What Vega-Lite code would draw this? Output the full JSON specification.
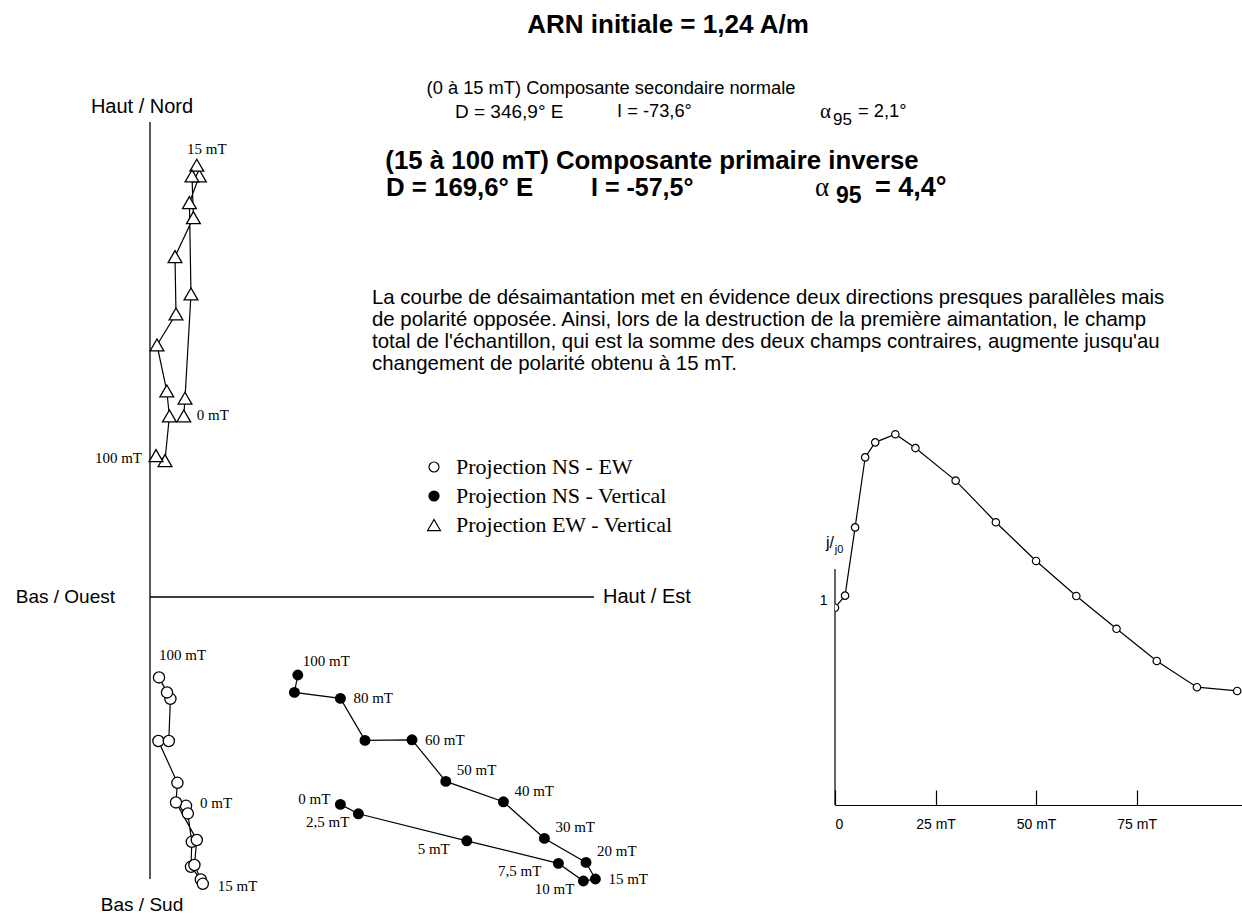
{
  "$schema": "https://vega.github.io/schema/vega-lite/v6.json",
  "padding": 0,
  "spacing": 0,
  "bounds": "flush",
  "config": {"view": {"stroke": null}, "font": "Liberation Sans", "text": {"color": "black"}},
  "datasets": {
    "one": [{}],
    "ns_ew": [
      {"mT": 0, "label": "0 mT", "h": 18.0, "v": -104.4},
      {"mT": 2.5, "label": "2,5 mT", "h": 18.9, "v": -108.2},
      {"mT": 5, "label": "5 mT", "h": 20.9, "v": -122.4},
      {"mT": 7.5, "label": "7,5 mT", "h": 20.5, "v": -134.9},
      {"mT": 10, "label": "10 mT", "h": 25.4, "v": -141.2},
      {"mT": 15, "label": "15 mT", "h": 26.4, "v": -143.4},
      {"mT": 20, "label": "20 mT", "h": 22.2, "v": -134.0},
      {"mT": 30, "label": "30 mT", "h": 23.4, "v": -121.5},
      {"mT": 40, "label": "40 mT", "h": 13.0, "v": -102.7},
      {"mT": 50, "label": "50 mT", "h": 13.7, "v": -92.9},
      {"mT": 60, "label": "60 mT", "h": 4.2, "v": -72.0},
      {"mT": 70, "label": "70 mT", "h": 9.4, "v": -72.0},
      {"mT": 80, "label": "80 mT", "h": 10.2, "v": -50.9},
      {"mT": 90, "label": "90 mT", "h": 8.5, "v": -47.7},
      {"mT": 100, "label": "100 mT", "h": 4.5, "v": -40.2}
    ],
    "ns_v": [
      {"mT": 0, "label": "0 mT", "h": 95.2, "v": -103.7},
      {"mT": 2.5, "label": "2,5 mT", "h": 104.2, "v": -108.4},
      {"mT": 5, "label": "5 mT", "h": 158.4, "v": -121.9},
      {"mT": 7.5, "label": "7,5 mT", "h": 204.2, "v": -133.2},
      {"mT": 10, "label": "10 mT", "h": 216.7, "v": -142.0},
      {"mT": 15, "label": "15 mT", "h": 222.7, "v": -141.0},
      {"mT": 20, "label": "20 mT", "h": 218.0, "v": -132.7},
      {"mT": 30, "label": "30 mT", "h": 197.2, "v": -120.7},
      {"mT": 40, "label": "40 mT", "h": 176.7, "v": -102.4},
      {"mT": 50, "label": "50 mT", "h": 147.9, "v": -92.2},
      {"mT": 60, "label": "60 mT", "h": 131.0, "v": -71.4},
      {"mT": 70, "label": "70 mT", "h": 107.5, "v": -71.7},
      {"mT": 80, "label": "80 mT", "h": 95.2, "v": -50.7},
      {"mT": 90, "label": "90 mT", "h": 72.2, "v": -47.7},
      {"mT": 100, "label": "100 mT", "h": 73.9, "v": -39.0}
    ],
    "ew_v": [
      {"mT": 0, "label": "0 mT", "h": 16.9, "v": 90.5},
      {"mT": 2.5, "label": "2,5 mT", "h": 17.5, "v": 99.4},
      {"mT": 5, "label": "5 mT", "h": 20.5, "v": 151.5},
      {"mT": 7.5, "label": "7,5 mT", "h": 19.7, "v": 197.2},
      {"mT": 10, "label": "10 mT", "h": 24.7, "v": 210.5},
      {"mT": 15, "label": "15 mT", "h": 23.4, "v": 215.9},
      {"mT": 20, "label": "20 mT", "h": 21.0, "v": 210.5},
      {"mT": 30, "label": "30 mT", "h": 21.7, "v": 189.7},
      {"mT": 40, "label": "40 mT", "h": 12.5, "v": 170.2},
      {"mT": 50, "label": "50 mT", "h": 13.0, "v": 141.5},
      {"mT": 60, "label": "60 mT", "h": 3.5, "v": 126.0},
      {"mT": 70, "label": "70 mT", "h": 8.4, "v": 103.0},
      {"mT": 80, "label": "80 mT", "h": 9.7, "v": 90.5},
      {"mT": 90, "label": "90 mT", "h": 7.5, "v": 68.2},
      {"mT": 100, "label": "100 mT", "h": 3.0, "v": 70.7}
    ],
    "curve": [
      {"mT": 0, "j": 1.0},
      {"mT": 2.5, "j": 1.061},
      {"mT": 5, "j": 1.407},
      {"mT": 7.5, "j": 1.762},
      {"mT": 10, "j": 1.838},
      {"mT": 15, "j": 1.879},
      {"mT": 20, "j": 1.809},
      {"mT": 30, "j": 1.644},
      {"mT": 40, "j": 1.433},
      {"mT": 50, "j": 1.237},
      {"mT": 60, "j": 1.059},
      {"mT": 70, "j": 0.893},
      {"mT": 80, "j": 0.730},
      {"mT": 90, "j": 0.597},
      {"mT": 100, "j": 0.578}
    ]
  },
  "hconcat": [
    {
      "width": 835,
      "height": 916,
      "layer": [
        {"data": {"name": "one"}, "mark": {"type": "rule", "color": "black", "strokeWidth": 1.3},
         "encoding": {
           "x": {"datum": 0, "type": "quantitative", "scale": {"domain": [-75, 342.5], "nice": false, "zero": false}, "axis": null},
           "y": {"datum": -141, "type": "quantitative", "scale": {"domain": [-159.5, 298.5], "nice": false, "zero": false}, "axis": null},
           "y2": {"datum": 237.5}}},
        {"data": {"name": "one"}, "mark": {"type": "rule", "color": "black", "strokeWidth": 1.3},
         "encoding": {
           "x": {"datum": 0, "type": "quantitative", "scale": {"domain": [-75, 342.5], "nice": false, "zero": false}, "axis": null},
           "x2": {"datum": 222},
           "y": {"datum": 0, "type": "quantitative", "scale": {"domain": [-159.5, 298.5], "nice": false, "zero": false}, "axis": null}}},
        {"data": {"name": "one"}, "mark": {"type": "text", "text": "Haut / Nord", "fontSize": 20, "align": "center", "baseline": "middle"},
         "encoding": {"x": {"datum": -4, "type": "quantitative"}, "y": {"datum": 245, "type": "quantitative"}}},
        {"data": {"name": "one"}, "mark": {"type": "text", "text": "Bas / Ouest", "fontSize": 19, "align": "right", "baseline": "middle"},
         "encoding": {"x": {"datum": -17.5, "type": "quantitative"}, "y": {"datum": 0, "type": "quantitative"}}},
        {"data": {"name": "one"}, "mark": {"type": "text", "text": "Haut / Est", "fontSize": 20, "align": "left", "baseline": "middle"},
         "encoding": {"x": {"datum": 226.5, "type": "quantitative"}, "y": {"datum": 0, "type": "quantitative"}}},
        {"data": {"name": "one"}, "mark": {"type": "text", "text": "Bas / Sud", "fontSize": 19, "align": "center", "baseline": "middle"},
         "encoding": {"x": {"datum": -4, "type": "quantitative"}, "y": {"datum": -154, "type": "quantitative"}}},
        {"data": {"name": "one"}, "mark": {"type": "text", "text": "ARN initiale = 1,24 A/m", "fontSize": 26, "fontWeight": "bold", "align": "center", "baseline": "middle"},
         "encoding": {"x": {"datum": 259, "type": "quantitative"}, "y": {"datum": 286, "type": "quantitative"}}},
        {"data": {"name": "one"}, "mark": {"type": "text", "text": "(0 à 15 mT) Composante secondaire normale", "fontSize": 18.3, "align": "center", "baseline": "middle"},
         "encoding": {"x": {"datum": 230.5, "type": "quantitative"}, "y": {"datum": 254, "type": "quantitative"}}},
        {"data": {"name": "one"}, "mark": {"type": "text", "text": "D = 346,9° E", "fontSize": 19, "align": "left", "baseline": "middle"},
         "encoding": {"x": {"datum": 152.5, "type": "quantitative"}, "y": {"datum": 242.5, "type": "quantitative"}}},
        {"data": {"name": "one"}, "mark": {"type": "text", "text": "I = -73,6°", "fontSize": 18.3, "align": "left", "baseline": "middle"},
         "encoding": {"x": {"datum": 233.5, "type": "quantitative"}, "y": {"datum": 242.5, "type": "quantitative"}}},
        {"data": {"name": "one"}, "mark": {"type": "text", "text": "α", "font": "Liberation Serif", "fontSize": 21, "align": "left", "baseline": "middle"},
         "encoding": {"x": {"datum": 335, "type": "quantitative"}, "y": {"datum": 242.5, "type": "quantitative"}}},
        {"data": {"name": "one"}, "mark": {"type": "text", "text": "95", "fontSize": 17, "align": "left", "baseline": "middle"},
         "encoding": {"x": {"datum": 341.5, "type": "quantitative"}, "y": {"datum": 238.5, "type": "quantitative"}}},
        {"data": {"name": "one"}, "mark": {"type": "text", "text": "= 2,1°", "fontSize": 18.3, "align": "left", "baseline": "middle"},
         "encoding": {"x": {"datum": 354, "type": "quantitative"}, "y": {"datum": 242.5, "type": "quantitative"}}},
        {"data": {"name": "one"}, "mark": {"type": "text", "text": "(15 à 100 mT) Composante primaire inverse", "fontSize": 25.8, "fontWeight": "bold", "align": "center", "baseline": "middle"},
         "encoding": {"x": {"datum": 251, "type": "quantitative"}, "y": {"datum": 218, "type": "quantitative"}}},
        {"data": {"name": "one"}, "mark": {"type": "text", "text": "D = 169,6° E", "fontSize": 25.8, "fontWeight": "bold", "align": "left", "baseline": "middle"},
         "encoding": {"x": {"datum": 118, "type": "quantitative"}, "y": {"datum": 204.5, "type": "quantitative"}}},
        {"data": {"name": "one"}, "mark": {"type": "text", "text": "I = -57,5°", "fontSize": 25, "fontWeight": "bold", "align": "left", "baseline": "middle"},
         "encoding": {"x": {"datum": 220.5, "type": "quantitative"}, "y": {"datum": 204.5, "type": "quantitative"}}},
        {"data": {"name": "one"}, "mark": {"type": "text", "text": "α", "font": "Liberation Serif", "fontSize": 27, "align": "left", "baseline": "middle"},
         "encoding": {"x": {"datum": 332.5, "type": "quantitative"}, "y": {"datum": 204.5, "type": "quantitative"}}},
        {"data": {"name": "one"}, "mark": {"type": "text", "text": "95", "fontSize": 23, "fontWeight": "bold", "align": "left", "baseline": "middle"},
         "encoding": {"x": {"datum": 343, "type": "quantitative"}, "y": {"datum": 200.5, "type": "quantitative"}}},
        {"data": {"name": "one"}, "mark": {"type": "text", "text": "= 4,4°", "fontSize": 27, "fontWeight": "bold", "align": "left", "baseline": "middle"},
         "encoding": {"x": {"datum": 362.5, "type": "quantitative"}, "y": {"datum": 204.5, "type": "quantitative"}}},
        {"data": {"name": "one"}, "mark": {"type": "text", "text": "La courbe de désaimantation met en évidence deux directions presques parallèles mais\nde polarité opposée.  Ainsi, lors de la destruction de la première aimantation, le champ\ntotal de l'échantillon, qui est la somme des deux champs contraires, augmente jusqu'au\nchangement de polarité obtenu à 15 mT.", "lineBreak": "\n", "lineHeight": 22, "fontSize": 20.4, "align": "left", "baseline": "middle"},
         "encoding": {"x": {"datum": 111, "type": "quantitative"}, "y": {"datum": 149.5, "type": "quantitative"}}},
        {"data": {"name": "one"}, "mark": {"type": "point", "shape": "circle", "filled": true, "fill": "white", "stroke": "black", "strokeWidth": 1.2, "size": 100, "opacity": 1},
         "encoding": {"x": {"datum": 142, "type": "quantitative"}, "y": {"datum": 65, "type": "quantitative"}}},
        {"data": {"name": "one"}, "mark": {"type": "point", "shape": "circle", "filled": true, "fill": "black", "stroke": "black", "size": 85, "opacity": 1},
         "encoding": {"x": {"datum": 142, "type": "quantitative"}, "y": {"datum": 50.5, "type": "quantitative"}}},
        {"data": {"name": "one"}, "mark": {"type": "point", "shape": "triangle-up", "filled": true, "fill": "white", "stroke": "black", "strokeWidth": 1.2, "size": 165, "opacity": 1},
         "encoding": {"x": {"datum": 142, "type": "quantitative"}, "y": {"datum": 36, "type": "quantitative"}}},
        {"data": {"name": "one"}, "mark": {"type": "text", "text": "Projection NS - EW", "font": "Liberation Serif", "fontSize": 22, "align": "left", "baseline": "middle"},
         "encoding": {"x": {"datum": 153, "type": "quantitative"}, "y": {"datum": 65, "type": "quantitative"}}},
        {"data": {"name": "one"}, "mark": {"type": "text", "text": "Projection NS - Vertical", "font": "Liberation Serif", "fontSize": 22, "align": "left", "baseline": "middle"},
         "encoding": {"x": {"datum": 153, "type": "quantitative"}, "y": {"datum": 50.5, "type": "quantitative"}}},
        {"data": {"name": "one"}, "mark": {"type": "text", "text": "Projection EW - Vertical", "font": "Liberation Serif", "fontSize": 22, "align": "left", "baseline": "middle"},
         "encoding": {"x": {"datum": 153, "type": "quantitative"}, "y": {"datum": 36, "type": "quantitative"}}},
        {"data": {"name": "ns_ew"}, "mark": {"type": "line", "color": "black", "strokeWidth": 1.2},
         "encoding": {"x": {"field": "h", "type": "quantitative"}, "y": {"field": "v", "type": "quantitative"}, "order": {"field": "mT"}}},
        {"data": {"name": "ns_v"}, "mark": {"type": "line", "color": "black", "strokeWidth": 1.2},
         "encoding": {"x": {"field": "h", "type": "quantitative"}, "y": {"field": "v", "type": "quantitative"}, "order": {"field": "mT"}}},
        {"data": {"name": "ew_v"}, "mark": {"type": "line", "color": "black", "strokeWidth": 1.2},
         "encoding": {"x": {"field": "h", "type": "quantitative"}, "y": {"field": "v", "type": "quantitative"}, "order": {"field": "mT"}}},
        {"data": {"name": "ns_ew"}, "mark": {"type": "point", "shape": "circle", "filled": true, "fill": "white", "stroke": "black", "strokeWidth": 1.3, "size": 125, "opacity": 1},
         "encoding": {"x": {"field": "h", "type": "quantitative"}, "y": {"field": "v", "type": "quantitative"}}},
        {"data": {"name": "ns_v"}, "mark": {"type": "point", "shape": "circle", "filled": true, "fill": "black", "stroke": "black", "size": 80, "opacity": 1},
         "encoding": {"x": {"field": "h", "type": "quantitative"}, "y": {"field": "v", "type": "quantitative"}}},
        {"data": {"name": "ew_v"}, "mark": {"type": "point", "shape": "triangle-up", "filled": true, "fill": "white", "stroke": "black", "strokeWidth": 1.3, "size": 190, "opacity": 1},
         "encoding": {"x": {"field": "h", "type": "quantitative"}, "y": {"field": "v", "type": "quantitative"}}},
        {"data": {"name": "ns_ew"}, "transform": [{"filter": {"field": "mT", "oneOf": [100]}}],
         "mark": {"type": "text", "font": "Liberation Serif", "fontSize": 15, "align": "left", "baseline": "middle", "dx": 0, "dy": -22},
         "encoding": {"x": {"field": "h", "type": "quantitative"}, "y": {"field": "v", "type": "quantitative"}, "text": {"field": "label"}}},
        {"data": {"name": "ns_ew"}, "transform": [{"filter": {"field": "mT", "oneOf": [0]}}],
         "mark": {"type": "text", "font": "Liberation Serif", "fontSize": 15, "align": "left", "baseline": "middle", "dx": 14, "dy": -3},
         "encoding": {"x": {"field": "h", "type": "quantitative"}, "y": {"field": "v", "type": "quantitative"}, "text": {"field": "label"}}},
        {"data": {"name": "ns_ew"}, "transform": [{"filter": {"field": "mT", "oneOf": [15]}}],
         "mark": {"type": "text", "font": "Liberation Serif", "fontSize": 15, "align": "left", "baseline": "middle", "dx": 15, "dy": 2},
         "encoding": {"x": {"field": "h", "type": "quantitative"}, "y": {"field": "v", "type": "quantitative"}, "text": {"field": "label"}}},
        {"data": {"name": "ew_v"}, "transform": [{"filter": {"field": "mT", "oneOf": [15]}}],
         "mark": {"type": "text", "font": "Liberation Serif", "fontSize": 15, "align": "center", "baseline": "middle", "dx": 10, "dy": -16},
         "encoding": {"x": {"field": "h", "type": "quantitative"}, "y": {"field": "v", "type": "quantitative"}, "text": {"field": "label"}}},
        {"data": {"name": "ew_v"}, "transform": [{"filter": {"field": "mT", "oneOf": [0]}}],
         "mark": {"type": "text", "font": "Liberation Serif", "fontSize": 15, "align": "left", "baseline": "middle", "dx": 13, "dy": -1},
         "encoding": {"x": {"field": "h", "type": "quantitative"}, "y": {"field": "v", "type": "quantitative"}, "text": {"field": "label"}}},
        {"data": {"name": "ew_v"}, "transform": [{"filter": {"field": "mT", "oneOf": [100]}}],
         "mark": {"type": "text", "font": "Liberation Serif", "fontSize": 15, "align": "right", "baseline": "middle", "dx": -14, "dy": 2},
         "encoding": {"x": {"field": "h", "type": "quantitative"}, "y": {"field": "v", "type": "quantitative"}, "text": {"field": "label"}}},
        {"data": {"name": "ns_v"}, "transform": [{"filter": {"field": "mT", "oneOf": [100]}}],
         "mark": {"type": "text", "font": "Liberation Serif", "fontSize": 15, "align": "left", "baseline": "middle", "dx": 5, "dy": -14},
         "encoding": {"x": {"field": "h", "type": "quantitative"}, "y": {"field": "v", "type": "quantitative"}, "text": {"field": "label"}}},
        {"data": {"name": "ns_v"}, "transform": [{"filter": {"field": "mT", "oneOf": [80, 60, 15]}}],
         "mark": {"type": "text", "font": "Liberation Serif", "fontSize": 15, "align": "left", "baseline": "middle", "dx": 13, "dy": 0},
         "encoding": {"x": {"field": "h", "type": "quantitative"}, "y": {"field": "v", "type": "quantitative"}, "text": {"field": "label"}}},
        {"data": {"name": "ns_v"}, "transform": [{"filter": {"field": "mT", "oneOf": [50, 40, 30, 20]}}],
         "mark": {"type": "text", "font": "Liberation Serif", "fontSize": 15, "align": "left", "baseline": "middle", "dx": 11, "dy": -11},
         "encoding": {"x": {"field": "h", "type": "quantitative"}, "y": {"field": "v", "type": "quantitative"}, "text": {"field": "label"}}},
        {"data": {"name": "ns_v"}, "transform": [{"filter": {"field": "mT", "oneOf": [10, 2.5]}}],
         "mark": {"type": "text", "font": "Liberation Serif", "fontSize": 15, "align": "right", "baseline": "middle", "dx": -9, "dy": 8},
         "encoding": {"x": {"field": "h", "type": "quantitative"}, "y": {"field": "v", "type": "quantitative"}, "text": {"field": "label"}}},
        {"data": {"name": "ns_v"}, "transform": [{"filter": {"field": "mT", "oneOf": [7.5, 5]}}],
         "mark": {"type": "text", "font": "Liberation Serif", "fontSize": 15, "align": "right", "baseline": "middle", "dx": -17, "dy": 8},
         "encoding": {"x": {"field": "h", "type": "quantitative"}, "y": {"field": "v", "type": "quantitative"}, "text": {"field": "label"}}},
        {"data": {"name": "ns_v"}, "transform": [{"filter": {"field": "mT", "oneOf": [0]}}],
         "mark": {"type": "text", "font": "Liberation Serif", "fontSize": 15, "align": "right", "baseline": "middle", "dx": -10, "dy": -5},
         "encoding": {"x": {"field": "h", "type": "quantitative"}, "y": {"field": "v", "type": "quantitative"}, "text": {"field": "label"}}}
      ]
    },
    {
      "width": 407,
      "height": 805,
      "layer": [
        {"data": {"name": "one"}, "mark": {"type": "rule", "color": "black", "strokeWidth": 1.2},
         "encoding": {
           "x": {"datum": 0, "type": "quantitative", "scale": {"domain": [0, 101.2], "nice": false, "zero": false}},
           "y": {"datum": 0, "type": "quantitative", "scale": {"domain": [0, 4.08], "nice": false, "zero": false}},
           "y2": {"datum": 1.196}}},
        {"data": {"name": "curve"}, "mark": {"type": "line", "color": "black", "strokeWidth": 1.2, "clip": true},
         "encoding": {
           "x": {"field": "mT", "type": "quantitative", "scale": {"domain": [0, 101.2], "nice": false, "zero": false},
                 "axis": {"values": [0, 25, 50, 75], "labelExpr": "datum.value == 0 ? '0' : datum.value + ' mT'", "title": null, "grid": false, "tickSize": -15, "tickColor": "black", "tickWidth": 1.2, "domainColor": "black", "domainWidth": 1.2, "labelFontSize": 14, "labelColor": "black", "labelPadding": 27, "labelAngle": 0}},
           "y": {"field": "j", "type": "quantitative", "scale": {"domain": [0, 4.08], "nice": false, "zero": false},
                 "axis": {"values": [1], "labelExpr": "'1'", "title": null, "grid": false, "ticks": false, "domain": false, "labelFontSize": 14, "labelColor": "black", "labelPadding": 8, "labelOffset": -7}},
           "order": {"field": "mT"}}},
        {"data": {"name": "curve"}, "mark": {"type": "point", "shape": "circle", "filled": true, "fill": "white", "stroke": "black", "strokeWidth": 1.2, "size": 55, "opacity": 1, "clip": true},
         "encoding": {
           "x": {"field": "mT", "type": "quantitative", "scale": {"domain": [0, 101.2], "nice": false, "zero": false},
                 "axis": {"values": [0, 25, 50, 75], "labelExpr": "datum.value == 0 ? '0' : datum.value + ' mT'", "title": null, "grid": false, "tickSize": -15, "tickColor": "black", "tickWidth": 1.2, "domainColor": "black", "domainWidth": 1.2, "labelFontSize": 14, "labelColor": "black", "labelPadding": 27, "labelAngle": 0}},
           "y": {"field": "j", "type": "quantitative", "scale": {"domain": [0, 4.08], "nice": false, "zero": false},
                 "axis": {"values": [1], "labelExpr": "'1'", "title": null, "grid": false, "ticks": false, "domain": false, "labelFontSize": 14, "labelColor": "black", "labelPadding": 8, "labelOffset": -7}}}},
        {"data": {"name": "one"}, "mark": {"type": "text", "text": "j/", "fontSize": 16, "align": "center", "baseline": "middle"},
         "encoding": {"x": {"datum": -1.25, "type": "quantitative"}, "y": {"datum": 1.33, "type": "quantitative"}}},
        {"data": {"name": "one"}, "mark": {"type": "text", "text": "j0", "fontSize": 11, "align": "center", "baseline": "middle"},
         "encoding": {"x": {"datum": 1.0, "type": "quantitative"}, "y": {"datum": 1.29, "type": "quantitative"}}}
      ]
    }
  ]
}
